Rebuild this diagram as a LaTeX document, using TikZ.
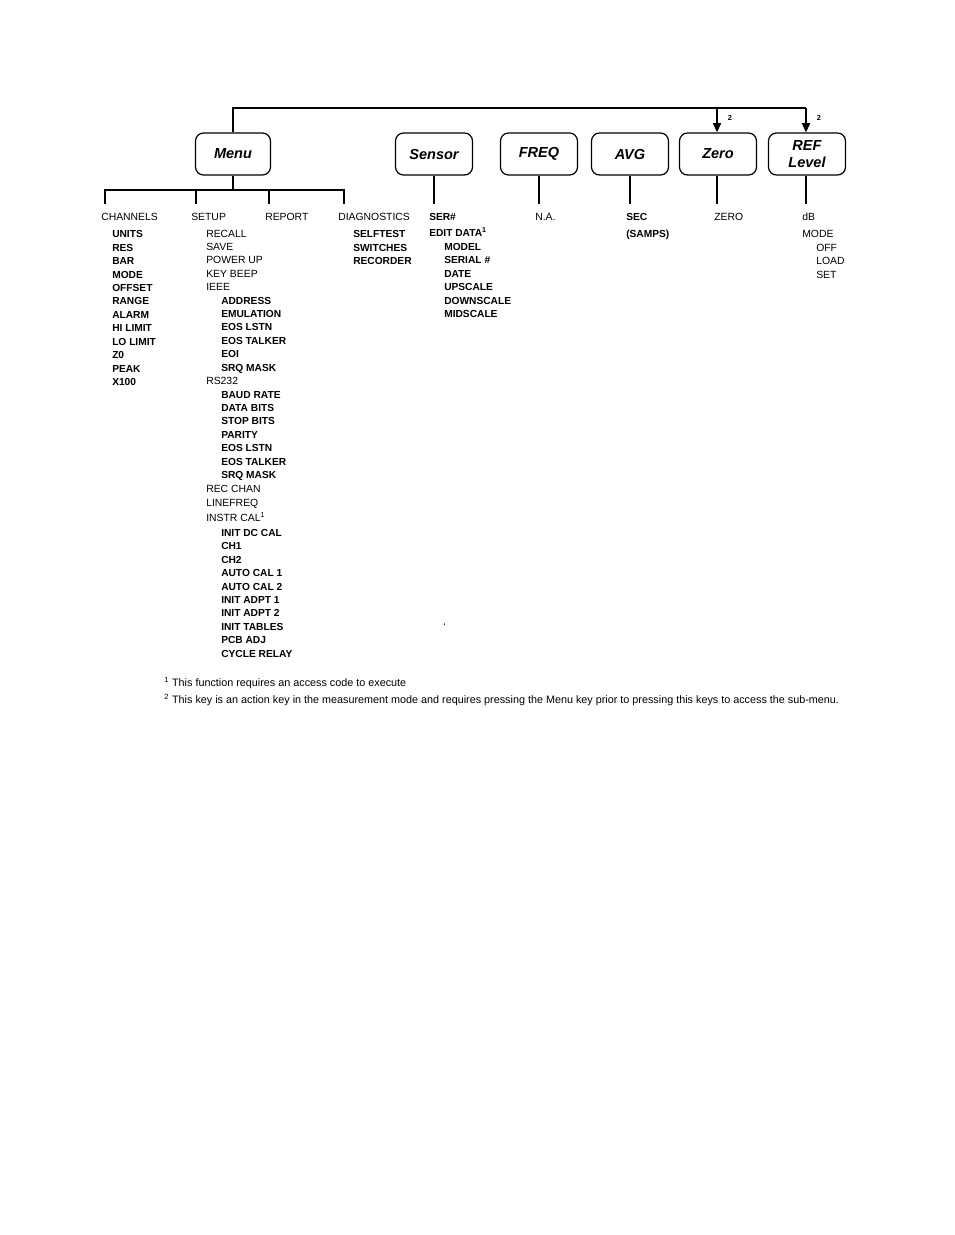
\documentclass[tikz,border=0pt]{standalone}
\usepackage{fontspec}
\setmainfont{Liberation Sans}
\usetikzlibrary{arrows.meta}
\begin{document}
\begin{tikzpicture}[x=0.75pt,y=-0.75pt,
  keybox/.style={draw, rounded corners=6pt, line width=0.9pt, minimum width=57.75pt, minimum height=31.5pt, inner sep=0pt, align=center, font=\fontsize{10.9}{12.75}\selectfont\bfseries\itshape},
  wire/.style={line width=1.4pt},
  arr/.style={wire, -{Triangle[length=7pt,width=6pt]}},
  lbl/.style={anchor=base west, inner sep=0pt, font=\fontsize{7.8}{9}\selectfont},
  blbl/.style={lbl, font=\fontsize{7.65}{9}\selectfont\bfseries},
  fnote/.style={lbl, font=\fontsize{8.1}{9}\selectfont},
  note/.style={inner sep=0pt, font=\fontsize{5.5}{6}\selectfont\bfseries},
]
\fill[white] (0,0) rectangle (954,1235);
\useasboundingbox (0,0) rectangle (954,1235);

% keys
\node[keybox, minimum width=56.25pt] (menu) at (233,154) {Menu};
\node[keybox] (sensor) at (434,154) {Sensor};
\node[keybox] (freq) at (539,154) {FREQ};
\node[keybox] (avg) at (630,154) {AVG};
\node[keybox] (zero) at (718,154) {Zero};
\node[keybox] (ref) at (807,154) {REF\\Level};

% top connector with arrows
\coordinate (topR) at (806,108);
\coordinate (topZ) at (717,108);
\draw[wire] (menu.north) |- (topR);
\draw[arr] (topR) -- (topR |- ref.north);
\draw[arr] (topZ) -- (topZ |- zero.north);
\node[note] (n2a) at (730,118) {2};
\node[note] (n2b) at (819,118) {2};

% menu branches
\coordinate (mj) at (233,190);
\coordinate (b1) at (105,204);
\coordinate (b2) at (196,204);
\coordinate (b3) at (269,204);
\coordinate (b4) at (344,204);
\draw[wire] (menu.south) -- (mj);
\draw[wire] (b1) -- (b1 |- mj) -- (b4 |- mj) -- (b4);
\draw[wire] (b2) -- (b2 |- mj);
\draw[wire] (b3) -- (b3 |- mj);

% other key drops
\draw[wire] (sensor.south) -- (sensor.south |- b1);
\draw[wire] (freq.south) -- (freq.south |- b1);
\draw[wire] (avg.south) -- (avg.south |- b1);
\draw[wire] (topZ |- zero.south) -- (topZ |- b1);
\draw[wire] (topR |- ref.south) -- (topR |- b1);

% headings
\node[lbl] (channels) at (101,220.5) {CHANNELS};
\node[lbl] (setup) at (191,220.5) {SETUP};
\node[lbl] (report) at (265,220.5) {REPORT};
\node[lbl] (diag) at (338,220.5) {DIAGNOSTICS};

% channels
\foreach \t [count=\i] in {UNITS,RES,BAR,MODE,OFFSET,RANGE,ALARM,HI LIMIT,LO LIMIT,Z0,PEAK,X100}
  \node[blbl] (ch\i) at (112,{237.8+13.43*(\i-1)}) {\t};

% setup
\foreach \x/\y/\t [count=\i] in {
  206/237/RECALL, 206/250/SAVE, 206/263/POWER UP, 206/277/KEY BEEP, 206/290/IEEE}
  \node[lbl] (su\i) at (\x,\y) {\t};
\foreach \t [count=\i] in {ADDRESS,EMULATION,EOS LSTN,EOS TALKER,EOI,SRQ MASK}
  \node[blbl] (ie\i) at (221,{304+13.43*(\i-1)}) {\t};
\node[lbl] (rs) at (206,384.5) {RS232};
\foreach \t [count=\i] in {BAUD RATE,DATA BITS,STOP BITS,PARITY,EOS LSTN,EOS TALKER,SRQ MASK}
  \node[blbl] (rs\i) at (221,{398+13.45*(\i-1)}) {\t};
\node[lbl] (recchan) at (206,492) {REC CHAN};
\node[lbl] (linefreq) at (206,506) {LINEFREQ};
\node[lbl] (instr) at (206,521) {INSTR CAL\textsuperscript{1}};
\foreach \t [count=\i] in {INIT DC CAL,CH1,CH2,AUTO CAL 1,AUTO CAL 2,INIT ADPT 1,INIT ADPT 2,INIT TABLES,PCB ADJ,CYCLE RELAY}
  \node[blbl] (ic\i) at (221,{536.5+13.4*(\i-1)}) {\t};

% diagnostics
\foreach \t [count=\i] in {SELFTEST,SWITCHES,RECORDER}
  \node[blbl] (dg\i) at (353,{237.8+13.43*(\i-1)}) {\t};

% sensor
\node[blbl] (ser) at (429,220.5) {SER\#};
\node[blbl] (edit) at (429,236) {EDIT DATA\textsuperscript{1}};
\foreach \t [count=\i] in {MODEL,SERIAL \#,DATE,UPSCALE,DOWNSCALE,MIDSCALE}
  \node[blbl] (sd\i) at (444,{250.5+13.43*(\i-1)}) {\t};
\node[lbl] (tick) at (443,630) {\symbol{96}};

% freq, avg, zero, ref
\node[lbl] (na) at (535,220.5) {N.A.};
\node[blbl] (sec) at (626,220.5) {SEC};
\node[blbl] (samps) at (626,237.8) {(SAMPS)};
\node[lbl] (zerot) at (714,220.5) {ZERO};
\node[lbl] (db) at (802,220.5) {dB};
\node[lbl] (mode) at (802,237.8) {MODE};
\foreach \t [count=\i] in {OFF,LOAD,SET}
  \node[lbl] (rm\i) at (816,{251.2+13.43*(\i-1)}) {\t};

% footnotes
\node[fnote] (fn1) at (164,686) {\textsuperscript{1} This function requires an access code to execute};
\node[fnote] (fn2) at (164,703) {\textsuperscript{2} This key is an action key in the measurement mode and requires pressing the Menu key prior to pressing this keys to access the sub-menu.};
\end{tikzpicture}
\end{document}
